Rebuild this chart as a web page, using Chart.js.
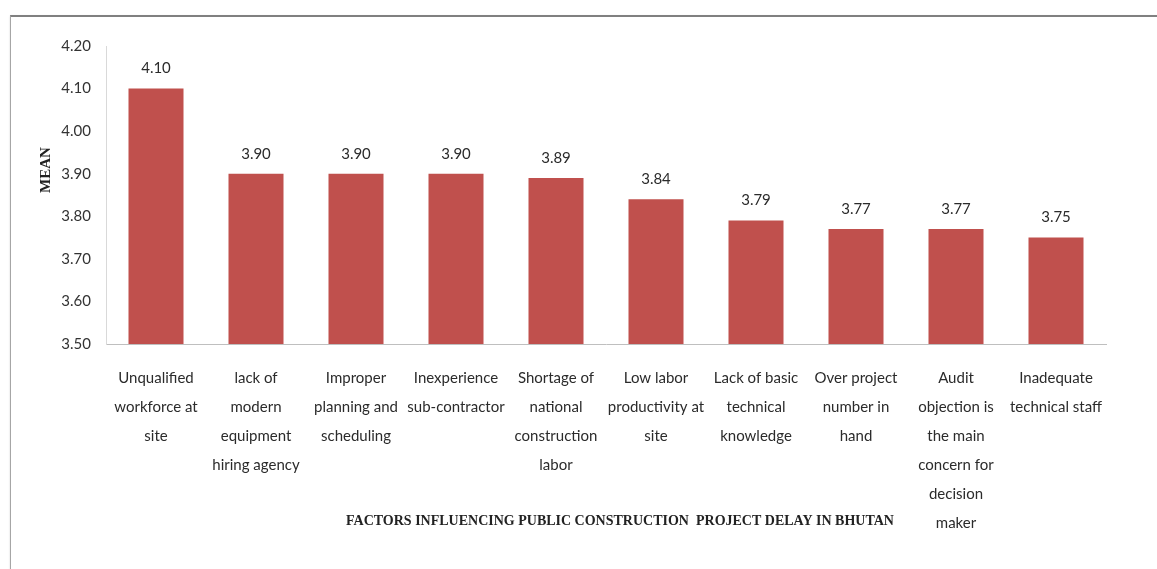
<!DOCTYPE html>
<html lang="en">
<head>
  <meta charset="UTF-8" />
  <title>Factors Influencing Public Construction Project Delay in Bhutan</title>
  <script src="https://cdn.jsdelivr.net/npm/chart.js"></script>
  <style>
    html, body {
      margin: 0;
      padding: 0;
      background: #fff;
    }
    .wrap {
      position: relative;
      width: 1157px;
      height: 569px;
      overflow: hidden;
    }
    .frame {
      position: absolute;
      left: 10px;
      top: 15px;
      right: -5px;
      bottom: -10px;
      border-top: 2px solid #808080;
      border-left: 1px solid #a6a6a6;
      box-shadow: 0 1px 2px rgba(0,0,0,0.15);
    }
    #delayChart {
      position: absolute;
      left: 0;
      top: 0;
    }
  </style>
</head>
<body>
  <div class="wrap">
    <div class="frame"></div>
    <canvas id="delayChart" width="1157" height="569"></canvas>
  </div>

  <script>
    const factors = [
      ['Unqualified', 'workforce at', 'site'],
      ['lack of', 'modern', 'equipment', 'hiring agency'],
      ['Improper', 'planning and', 'scheduling'],
      ['Inexperience', 'sub-contractor'],
      ['Shortage of', 'national', 'construction', 'labor'],
      ['Low labor', 'productivity at', 'site'],
      ['Lack of basic', 'technical', 'knowledge'],
      ['Over project', 'number in', 'hand'],
      ['Audit', 'objection is', 'the main', 'concern for', 'decision', 'maker'],
      ['Inadequate', 'technical staff']
    ];
    const meanScores = [4.10, 3.90, 3.90, 3.90, 3.89, 3.84, 3.79, 3.77, 3.77, 3.75];
    const yTicks = [3.50, 3.60, 3.70, 3.80, 3.90, 4.00, 4.10, 4.20];
    const xTitle = 'FACTORS INFLUENCING PUBLIC CONSTRUCTION  PROJECT DELAY IN BHUTAN';
    const yTitle = 'MEAN';

    const labelFont = "Lato, 'Open Sans', sans-serif";
    const titleFont = "'Liberation Serif', 'DejaVu Serif', serif";

    // value labels above each bar + the two axis titles
    const barValues = {
      id: 'barValues',
      afterDatasetsDraw(chart) {
        const ctx = chart.ctx;
        const meta = chart.getDatasetMeta(0);
        ctx.save();
        ctx.font = '15px ' + labelFont;
        ctx.fillStyle = '#2b2b2b';
        ctx.textAlign = 'center';
        ctx.textBaseline = 'middle';
        meta.data.forEach((bar, i) => {
          ctx.fillText(meanScores[i].toFixed(2), bar.x, bar.y - 20);
        });

        ctx.fillStyle = '#222';
        ctx.font = 'bold 14px ' + titleFont;
        ctx.fillText(xTitle, 620, 521);

        ctx.translate(46, 170);
        ctx.rotate(-Math.PI / 2);
        ctx.font = 'bold 15px ' + titleFont;
        ctx.fillText(yTitle, 0, 0);
        ctx.restore();
      }
    };

    new Chart(document.getElementById('delayChart'), {
      type: 'bar',
      data: {
        labels: factors,
        datasets: [{
          data: meanScores,
          backgroundColor: '#c0504d',
          categoryPercentage: 0.55,
          barPercentage: 1
        }]
      },
      options: {
        responsive: false,
        animation: false,
        layout: {
          padding: { top: 46, left: 34, right: 51, bottom: 0 }
        },
        plugins: {
          legend: { display: false },
          tooltip: { enabled: false }
        },
        scales: {
          x: {
            grid: { display: false, drawTicks: false },
            border: { color: '#bfbfbf', width: 1 },
            ticks: {
              color: '#2b2b2b',
              font: { family: labelFont, size: 15, lineHeight: 1.93 },
              padding: 20,
              maxRotation: 0,
              autoSkip: false
            },
            afterFit(scale) {
              scale.height = 569 - 344;
            }
          },
          y: {
            min: 3.5,
            max: 4.2,
            afterBuildTicks(scale) {
              scale.ticks = yTicks.map(v => ({ value: v }));
            },
            grid: { display: false, drawTicks: false },
            border: { color: '#d9d9d9', width: 1 },
            ticks: {
              color: '#333',
              font: { family: labelFont, size: 15 },
              padding: 15,
              callback: v => v.toFixed(2)
            },
            afterFit(scale) {
              scale.width = 106 - 34;
            }
          }
        }
      },
      plugins: [barValues]
    });
  </script>
</body>
</html>
